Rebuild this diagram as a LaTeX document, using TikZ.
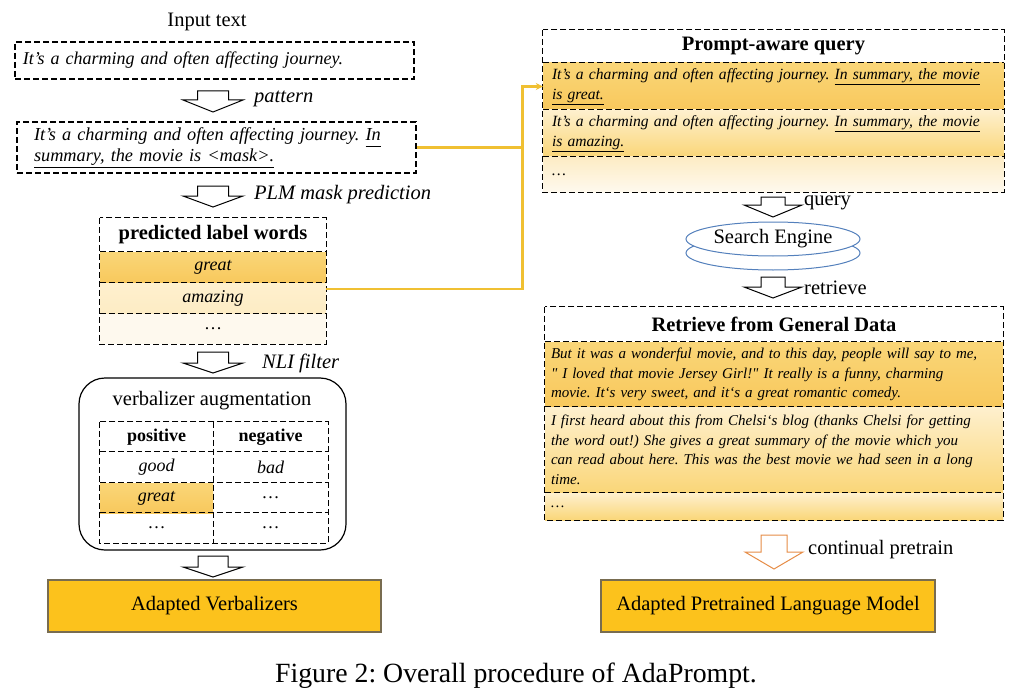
\documentclass[tikz,border=0pt]{standalone}
\usepackage{fontspec}
\setmainfont{Liberation Serif}
\usetikzlibrary{shapes.geometric,arrows.meta}
\newcommand\myul[1]{\underline{\smash{#1}\vphantom{y}}}
\newcommand\sq{\XeTeXglyph\XeTeXcharglyph"22\relax}
\definecolor{gold}{RGB}{252,194,28}
\definecolor{goldedge}{RGB}{120,108,80}
\definecolor{yA}{RGB}{248,200,92}
\definecolor{yAt}{RGB}{250,214,120}
\definecolor{yB}{RGB}{253,236,196}
\definecolor{yBt}{RGB}{254,240,206}
\definecolor{yC}{RGB}{254,249,238}
\definecolor{yline}{RGB}{240,192,50}
\definecolor{seblue}{RGB}{84,128,188}
\definecolor{orarrow}{RGB}{230,140,70}
\newcommand\harrow[7][]{%
  \draw[harr,#1] (#2-#6,#3) -- (#2+#6,#3) -- (#2+#6,#4) -- (#2+#7,#4) -- (#2,#5)
    -- (#2-#7,#4) -- (#2-#6,#4) -- cycle;}
\begin{document}
\frenchspacing
\begin{tikzpicture}[x=1pt,y=-1pt,
  dsh/.style={dash pattern=on 6pt off 3pt, line width=1.2pt},
  lab/.style={font=\fontsize{20.5}{24}\selectfont, inner sep=0pt},
  labi/.style={font=\fontsize{20.5}{24}\selectfont\itshape, inner sep=0pt},
  cell/.style={font=\fontsize{18}{21}\selectfont, inner sep=0pt},
  hdr/.style={font=\fontsize{20.5}{24}\selectfont\bfseries, inner sep=0pt},
  qrow/.style={font=\fontsize{15.6}{20}\selectfont\itshape\hyphenpenalty10000, inner xsep=9pt, inner ysep=2pt,
     minimum width=461, text width=443, align=left},
  rrow/.style={font=\fontsize{15}{19.5}\selectfont\itshape\hyphenpenalty10000, inner xsep=6pt, inner ysep=2pt,
     minimum width=458, text width=446, align=left},
  harr/.style={draw=black, fill=white, line width=1pt, line join=miter},
  final/.style={draw=goldedge, fill=gold, line width=1.2pt, font=\fontsize{20.5}{24}\selectfont,
     minimum width=333, minimum height=52, inner sep=0pt},
  ylink/.style={draw=yline, line width=2.4pt},
  seng/.style={ellipse, draw=seblue, line width=1pt, fill=white, minimum width=174, minimum height=34, inner sep=0pt}
]
\useasboundingbox (0,0) rectangle (1020,698);

% ---------------- left column ----------------
\node[lab] (inp) at (207,22) {Input text};
\node[draw, dsh, font=\fontsize{18}{21}\selectfont\itshape, inner xsep=8pt, inner ysep=2pt,
  minimum width=399, minimum height=37, text width=383, align=left] (b1) at (214.5,60.5)
  {It’s a charming and often affecting journey.};
\harrow{213}{91}{100}{112}{15.5}{30}
\node[labi, anchor=west] (lpat) at (254,99) {pattern};

\node[draw, dsh, font=\fontsize{18.3}{21}\selectfont\itshape, inner xsep=17pt, inner ysep=2pt,
  minimum width=399, minimum height=51, text width=365, align=left] (b2) at (216.5,147.5)
  {It’s a charming and often affecting journey. \myul{In}\\\myul{summary, the movie is <mask>.}};
\harrow{213}{186}{196}{207}{15.5}{30}
\node[labi, anchor=west] (lplm) at (254,195) {PLM mask prediction};

% predicted label words
\node[hdr, minimum width=226, minimum height=34] (ph) at (213,235) {predicted label words};
\node[cell, minimum width=226, minimum height=31, top color=yAt, bottom color=yA] (pg) at (213,267.5) {\itshape great};
\node[cell, minimum width=226, minimum height=31, top color=yBt, bottom color=yB] (pa) at (213,298.5) {\itshape amazing};
\node[cell, minimum width=226, minimum height=30, fill=yC] (pd) at (213,329) {\dots};
\draw[dsh] (ph.north west) rectangle (pd.south east);
\draw[dsh] (pg.north west) -- (pg.north east);
\draw[dsh] (pa.north west) -- (pa.north east);
\draw[dsh] (pd.north west) -- (pd.north east);

\harrow{213}{352}{363}{373}{15.5}{30}
\node[labi, anchor=west] (lnli) at (262,363) {NLI filter};

% verbalizer augmentation
\node[draw, line width=1.2pt, rounded corners=26pt, minimum width=267, minimum height=172] (va) at (212.5,464) {};
\node[lab] (valab) at (212,401) {verbalizer augmentation};
\node[cell, minimum width=113, minimum height=30, font=\fontsize{18}{21}\selectfont\bfseries] (c11) at (156.5,437) {positive};
\node[cell, minimum width=115, minimum height=30, font=\fontsize{18}{21}\selectfont\bfseries] (c12) at (270.5,437) {negative};
\node[cell, minimum width=113, minimum height=31] (c21) at (156.5,467.5) {\itshape good};
\node[cell, minimum width=115, minimum height=31] (c22) at (270.5,467.5) {\itshape bad};
\node[cell, minimum width=113, minimum height=30, top color=yAt, bottom color=yA] (c31) at (156.5,498) {\itshape great};
\node[cell, minimum width=115, minimum height=30] (c32) at (270.5,498) {\dots};
\node[cell, minimum width=113, minimum height=30] (c41) at (156.5,528) {\dots};
\node[cell, minimum width=115, minimum height=30] (c42) at (270.5,528) {\dots};
\draw[dsh] (c11.north west) rectangle (c42.south east);
\draw[dsh] (c11.north east) -- (c41.south east);
\draw[dsh] (c21.north west) -- (c22.north east);
\draw[dsh] (c31.north west) -- (c32.north east);
\draw[dsh] (c41.north west) -- (c42.north east);

\harrow{213}{556}{567}{577}{15}{30}
\node[final] (av) at (214.5,606) {Adapted Verbalizers};

% ---------------- right column ----------------
\node[hdr, minimum width=461, minimum height=33] (qh) at (773.5,46.5) {Prompt-aware query};
\node[qrow, minimum height=47, top color=yAt, bottom color=yA] (q1) at (773.5,86.5)
  {It’s a charming and often affecting journey. \myul{In summary, the movie}\\\myul{is great.}};
\node[qrow, minimum height=47, top color=yBt, bottom color=yAt] (q2) at (773.5,133.5)
  {It’s a charming and often affecting journey. \myul{In summary, the movie}\\\myul{is amazing.}};
\node[qrow, minimum height=35, top color=yB, bottom color=yC] (q3) at (773.5,174.5) {\dots};
\draw[dsh] (qh.north west) rectangle (q3.south east);
\draw[dsh] (q1.north west) -- (q1.north east);
\draw[dsh] (q2.north west) -- (q2.north east);
\draw[dsh] (q3.north west) -- (q3.north east);

\harrow{773}{197}{205}{217}{12}{29}
\node[lab, anchor=west] (lq) at (804,203) {query};

\node[seng] (se2) at (773,253) {};
\node[seng, font=\fontsize{20.5}{24}\selectfont] (se) at (773,239) {Search Engine};

\harrow{773}{277}{287}{298}{12}{29}
\node[lab, anchor=west] (lr) at (804,288) {retrieve};

\node[hdr, minimum width=458, minimum height=35] (rh) at (774,324.5) {Retrieve from General Data};
\node[rrow, minimum height=65, top color=yAt, bottom color=yA] (r1) at (774,374.5)
  {But it was a wonderful movie, and to this day, people will say to me,\\
   \sq\ I loved that movie Jersey Girl!\sq\ It really is a funny, charming\\
   movie. It‘s very sweet, and it‘s a great romantic comedy.};
\node[rrow, minimum height=86, top color=yBt, bottom color=yAt] (r2) at (774,450)
  {I first heard about this from Chelsi‘s blog (thanks Chelsi for getting\\
   the word out!) She gives a great summary of the movie which you\\
   can read about here. This was the best movie we had seen in a long\\
   time.};
\node[rrow, minimum height=27, top color=yBt, bottom color=yAt] (r3) at (774,506.5) {\dots};
\draw[dsh] (rh.north west) rectangle (r3.south east);
\draw[dsh] (r1.north west) -- (r1.north east);
\draw[dsh] (r2.north west) -- (r2.north east);
\draw[dsh] (r3.north west) -- (r3.north east);

\harrow[draw=orarrow]{774}{535}{552}{569}{13}{29}
\node[lab, anchor=west] (lc) at (808,550) {continual pretrain};

\node[final, minimum width=334] (plm) at (768,606) {Adapted Pretrained Language Model};

% ---------------- yellow connectors ----------------
\coordinate (ya) at (326,289);
\coordinate (yj) at (522.5,86.5);
\draw[ylink] (ya) -| (yj);
\draw[ylink, -{Stealth[length=7pt,width=7pt]}] (b2.east) -| (yj) -- (q1.west);

% caption
\node[font=\fontsize{27.8}{32}\selectfont, inner sep=0pt] (cap) at (516,676) {Figure 2: Overall procedure of AdaPrompt.};
\end{tikzpicture}
\end{document}
